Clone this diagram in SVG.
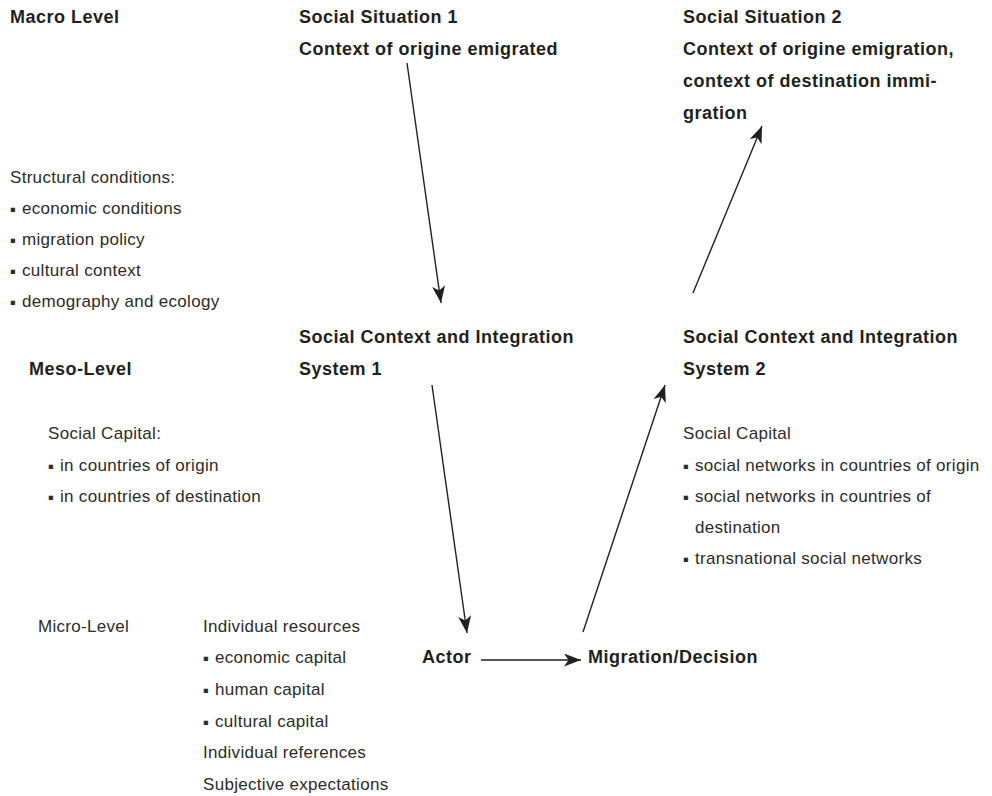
<svg xmlns="http://www.w3.org/2000/svg" width="992" height="796" viewBox="0 0 992 796">
<defs>
<style>
text{font-family:"Liberation Sans",Arial,sans-serif;fill:#231f20}
.b{font-weight:bold;font-size:18px;letter-spacing:0.5px}
.r{font-size:17px;letter-spacing:0.3px;fill:#2b2b2b}
.bu{font-family:"DejaVu Sans",sans-serif;font-size:8.5px;letter-spacing:0}
.c{stroke:#231f20;stroke-width:1.4;fill:none;marker-end:url(#ah)}
</style>
<marker id="ah" markerUnits="userSpaceOnUse" markerWidth="20" markerHeight="14" refX="17" refY="6.5" orient="auto" viewBox="0 0 20 14">
<path d="M0,0 L17,6.5 L0,13 L4.5,6.5 Z" fill="#231f20"/>
</marker>
</defs>
<rect width="992" height="796" fill="#fff"/>

<g id="macro-level"><text class="b" x="10" y="23">Macro Level</text></g>
<g id="structural-conditions">
<text class="r" x="10" y="183">Structural conditions:</text>
<text class="r" y="214"><tspan class="bu" x="10" dy="-2">▪</tspan><tspan x="22" dy="2">economic conditions</tspan></text>
<text class="r" y="245"><tspan class="bu" x="10" dy="-2">▪</tspan><tspan x="22" dy="2">migration policy</tspan></text>
<text class="r" y="276"><tspan class="bu" x="10" dy="-2">▪</tspan><tspan x="22" dy="2">cultural context</tspan></text>
<text class="r" y="307"><tspan class="bu" x="10" dy="-2">▪</tspan><tspan x="22" dy="2">demography and ecology</tspan></text>
</g>

<g id="social-situation-1">
<text class="b" x="299" y="23">Social Situation 1</text>
<text class="b" x="299" y="55">Context of origine emigrated</text>
</g>
<g id="social-situation-2">
<text class="b" x="683" y="23">Social Situation 2</text>
<text class="b" x="683" y="55">Context of origine emigration,</text>
<text class="b" x="683" y="87">context of destination immi-</text>
<text class="b" x="683" y="119">gration</text>
</g>

<g id="meso-level"><text class="b" x="29" y="375">Meso-Level</text></g>
<g id="meso-social-capital">
<text class="r" x="48" y="439">Social Capital:</text>
<text class="r" y="471"><tspan class="bu" x="48" dy="-2">▪</tspan><tspan x="60" dy="2">in countries of origin</tspan></text>
<text class="r" y="502"><tspan class="bu" x="48" dy="-2">▪</tspan><tspan x="60" dy="2">in countries of destination</tspan></text>
</g>

<g id="system-1">
<text class="b" x="299" y="343">Social Context and Integration</text>
<text class="b" x="299" y="375">System 1</text>
</g>
<g id="system-2">
<text class="b" x="683" y="343">Social Context and Integration</text>
<text class="b" x="683" y="375">System 2</text>
</g>
<g id="system-2-social-capital">
<text class="r" x="683" y="439">Social Capital</text>
<text class="r" y="471"><tspan class="bu" x="683" dy="-2">▪</tspan><tspan x="695" dy="2">social networks in countries of origin</tspan></text>
<text class="r" y="502"><tspan class="bu" x="683" dy="-2">▪</tspan><tspan x="695" dy="2">social networks in countries of</tspan></text>
<text class="r" x="695" y="533">destination</text>
<text class="r" y="564"><tspan class="bu" x="683" dy="-2">▪</tspan><tspan x="695" dy="2">transnational social networks</tspan></text>
</g>

<g id="micro-level"><text class="r" x="38" y="632">Micro-Level</text></g>
<g id="individual-resources">
<text class="r" x="203" y="632">Individual resources</text>
<text class="r" y="663"><tspan class="bu" x="203" dy="-2">▪</tspan><tspan x="215" dy="2">economic capital</tspan></text>
<text class="r" y="695"><tspan class="bu" x="203" dy="-2">▪</tspan><tspan x="215" dy="2">human capital</tspan></text>
<text class="r" y="727"><tspan class="bu" x="203" dy="-2">▪</tspan><tspan x="215" dy="2">cultural capital</tspan></text>
<text class="r" x="203" y="758">Individual references</text>
<text class="r" x="203" y="790">Subjective expectations</text>
</g>

<g id="actor"><text class="b" x="422" y="663">Actor</text></g>
<g id="migration-decision"><text class="b" x="588" y="663">Migration/Decision</text></g>

<g id="connectors">
<line class="c" x1="407" y1="63" x2="441" y2="303"/>
<line class="c" x1="693" y1="293" x2="762" y2="126"/>
<line class="c" x1="432" y1="385" x2="467" y2="633"/>
<line class="c" x1="583" y1="632" x2="665" y2="385"/>
<line class="c" x1="481" y1="660" x2="581" y2="660"/>
</g>
</svg>
